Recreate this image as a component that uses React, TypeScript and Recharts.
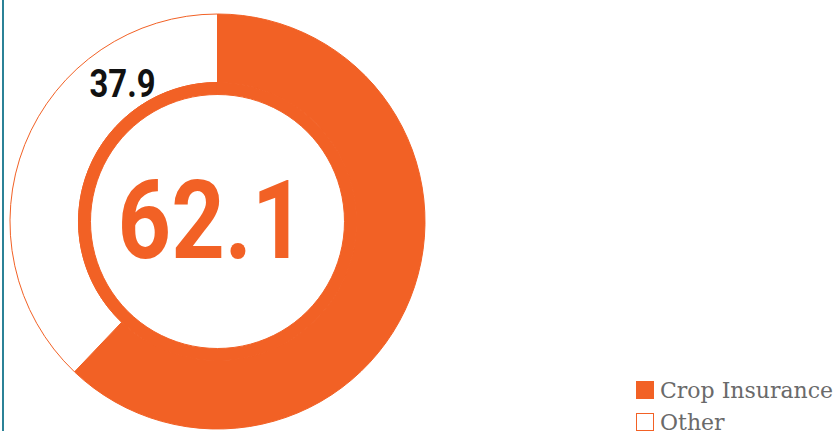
import { PieChart, Pie, Cell, Label } from "recharts"

const categories = ["Crop Insurance", "Other"]
const shares = [62.1, 37.9]
const ringData = [{ name: "ring", value: 1 }]

const ORANGE = "#F26125"

const data = categories.map((name, i) => ({ name, value: shares[i] }))

function LegendBox() {
  return (
    <div
      style={{
        position: "absolute",
        left: 636,
        top: 374,
        fontFamily: "'DejaVu Serif', serif",
        fontSize: 22,
        color: "#6a6a6a",
      }}
    >
      {data.map((d, i) => (
        <div key={d.name} style={{ display: "flex", alignItems: "center", height: 32, whiteSpace: "nowrap" }}>
          <span
            style={{
              display: "inline-block",
              boxSizing: "border-box",
              width: 18,
              height: 18,
              background: i === 0 ? ORANGE : "#fff",
              border: i === 0 ? "none" : `1.5px solid ${ORANGE}`,
              marginRight: 6,
            }}
          />
          <span>{d.name}</span>
        </div>
      ))}
    </div>
  )
}

export default function App() {
  return (
    <div style={{ position: "absolute", left: 0, top: 0, width: 835, height: 431, background: "#fff", overflow: "hidden" }}>
      <div style={{ position: "absolute", left: 2, top: 0, width: 2, height: 431, background: "#2b8297" }} />
      <PieChart width={835} height={431} margin={{ top: 0, right: 0, bottom: 0, left: 0 }}>
        <Pie
          data={data}
          dataKey="value"
          cx={217.5}
          cy={221.5}
          startAngle={90}
          endAngle={-270}
          innerRadius={139}
          outerRadius={207.5}
          isAnimationActive={false}
          label={false}
          labelLine={false}
        >
          {data.map((d, i) => (
            <Cell
              key={d.name}
              fill={i === 0 ? ORANGE : "#fff"}
              stroke={ORANGE}
              strokeWidth={1}
            />
          ))}
          <Label
            content={(p: any) => {
              const vb = p.viewBox || {}
              const cx = vb.cx ?? 217.5
              const cy = vb.cy ?? 221.5
              return (
                <text
                  x={cx - 95}
                  y={cy - 125}
                  textAnchor="middle"
                  fontFamily="Roboto, sans-serif"
                  fontWeight={700}
                  fontSize={38}
                  fill="#111"
                  textLength={66}
                  lengthAdjust="spacingAndGlyphs"
                >
                  {shares[1]}
                </text>
              )
            }}
          />
        </Pie>
        <Pie
          data={ringData}
          dataKey="value"
          cx={217.5}
          cy={221.5}
          startAngle={90}
          endAngle={-270}
          innerRadius={127}
          outerRadius={139}
          fill={ORANGE}
          stroke={ORANGE}
          isAnimationActive={false}
        >
          <Label
            content={(p: any) => {
              const vb = p.viewBox || {}
              const cx = vb.cx ?? 217.5
              const cy = vb.cy ?? 221.5
              return (
                <text
                  x={cx - 6}
                  y={cy + 36}
                  textAnchor="middle"
                  fontFamily="Roboto, sans-serif"
                  fontWeight={700}
                  fontSize={110}
                  fill={ORANGE}
                  textLength={188}
                  lengthAdjust="spacingAndGlyphs"
                >
                  {shares[0]}
                </text>
              )
            }}
          />
        </Pie>
      </PieChart>
      <LegendBox />
    </div>
  )
}
